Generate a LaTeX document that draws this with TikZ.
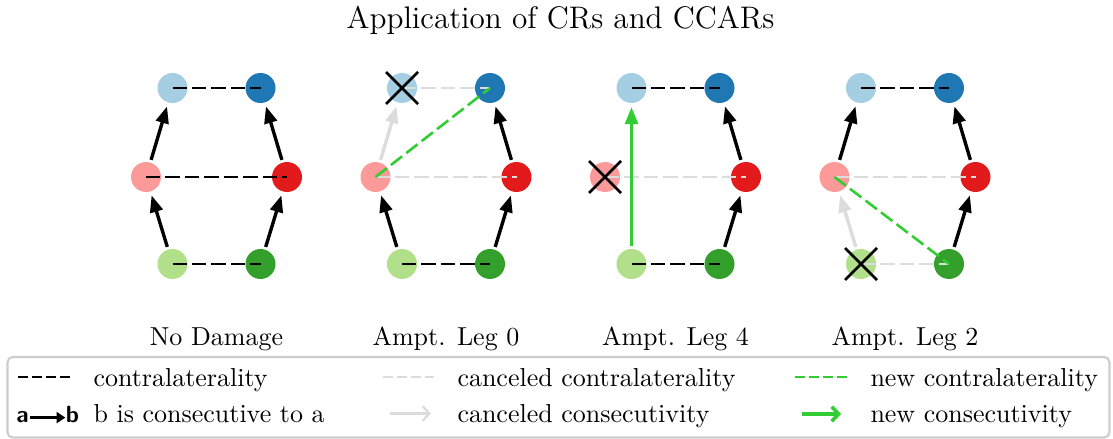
\documentclass[tikz,border=0pt]{standalone}
\usepackage{amsmath}
\usetikzlibrary{arrows.meta}

% Paired palette for the six legs
\definecolor{cTL}{HTML}{A6CEE3}
\definecolor{cTR}{HTML}{1F78B4}
\definecolor{cML}{HTML}{FB9A99}
\definecolor{cMR}{HTML}{E31A1C}
\definecolor{cBL}{HTML}{B2DF8A}
\definecolor{cBR}{HTML}{33A02C}
\definecolor{cancel}{HTML}{DCDCDC}
\definecolor{newgreen}{HTML}{32CD32}
\definecolor{frame}{HTML}{CCCCCC}

\begin{document}
\begin{tikzpicture}[x=0.385pt,y=-0.385pt,
  leg/.style={circle,minimum size=11.55pt,inner sep=0pt,outer sep=0pt,draw=none},
  contra/.style={black,line width=1pt,dash pattern=on 5.5pt off 2pt},
  cancontra/.style={cancel,line width=1pt,dash pattern=on 5.5pt off 2pt},
  newcontra/.style={newgreen,line width=1pt,dash pattern=on 5.5pt off 2pt},
  consec/.style={black,line width=1.3pt,-{Triangle[length=6.5pt,width=4.9pt]},
                 shorten <=1.1pt,shorten >=1.6pt},
  cancons/.style={consec,cancel},
  newcons/.style={consec,newgreen},
  cross/.style={black,line width=1pt},
  lab/.style={font=\fontsize{10}{12}\selectfont,inner sep=0pt},
  legdash/.style={line width=1pt,dash pattern=on 3.85pt off 1.55pt},
  legarrow/.style={-{Straight Barb[length=2.6pt,width=5.6pt]}},
]
\useasboundingbox (0,0) rectangle (1113,439);

% title
\node[font=\fontsize{12}{14}\selectfont,anchor=base,inner sep=0pt] (title) at (560.5,29)
  {Application of CRs and CCARs};

% the six legs of each panel
\foreach \i/\cx in {1/216.5,2/446,3/675.5,4/905}{
  \node[leg,fill=cTL] (p\i-tl) at (\cx-44,88) {};
  \node[leg,fill=cTR] (p\i-tr) at (\cx+44,88) {};
  \node[leg,fill=cML] (p\i-ml) at (\cx-70.5,177) {};
  \node[leg,fill=cMR] (p\i-mr) at (\cx+70.5,177) {};
  \node[leg,fill=cBL] (p\i-bl) at (\cx-44,264) {};
  \node[leg,fill=cBR] (p\i-br) at (\cx+44,264) {};
}

% panel captions
\foreach \i/\cx/\txt in {1/216.5/No Damage,2/446/Ampt. Leg 0,3/675.5/Ampt. Leg 4,4/905/Ampt. Leg 2}{
  \node[lab,anchor=base] (cap\i) at (\cx,346) {\txt};
}

% --- No damage
\draw[contra] (p1-tl.center) -- (p1-tr.center);
\draw[contra] (p1-ml.center) -- (p1-mr.center);
\draw[contra] (p1-bl.center) -- (p1-br.center);
\draw[consec] (p1-bl) -- (p1-ml);
\draw[consec] (p1-ml) -- (p1-tl);
\draw[consec] (p1-br) -- (p1-mr);
\draw[consec] (p1-mr) -- (p1-tr);

% --- leg 0 amputated
\draw[cancontra] (p2-tl.center) -- (p2-tr.center);
\draw[cancontra] (p2-ml.center) -- (p2-mr.center);
\draw[contra] (p2-bl.center) -- (p2-br.center);
\draw[cancons] (p2-ml) -- (p2-tl);
\draw[consec] (p2-bl) -- (p2-ml);
\draw[consec] (p2-br) -- (p2-mr);
\draw[consec] (p2-mr) -- (p2-tr);
\draw[newcontra] (p2-ml.center) -- (p2-tr.center);
\draw[cross] ([shift={(-16,-16)}]p2-tl.center) -- ([shift={(16,16)}]p2-tl.center);
\draw[cross] ([shift={(-16,16)}]p2-tl.center) -- ([shift={(16,-16)}]p2-tl.center);

% --- leg 4 amputated
\draw[contra] (p3-tl.center) -- (p3-tr.center);
\draw[cancontra] (p3-ml.center) -- (p3-mr.center);
\draw[contra] (p3-bl.center) -- (p3-br.center);
\draw[newcons] (p3-bl) -- (p3-tl);
\draw[consec] (p3-br) -- (p3-mr);
\draw[consec] (p3-mr) -- (p3-tr);
\draw[cross] ([shift={(-16,-16)}]p3-ml.center) -- ([shift={(16,16)}]p3-ml.center);
\draw[cross] ([shift={(-16,16)}]p3-ml.center) -- ([shift={(16,-16)}]p3-ml.center);

% --- leg 2 amputated
\draw[contra] (p4-tl.center) -- (p4-tr.center);
\draw[cancontra] (p4-ml.center) -- (p4-mr.center);
\draw[cancontra] (p4-bl.center) -- (p4-br.center);
\draw[cancons] (p4-bl) -- (p4-ml);
\draw[consec] (p4-ml) -- (p4-tl);
\draw[consec] (p4-mr) -- (p4-tr);
\draw[consec] (p4-br) -- (p4-mr);
\draw[newcontra] (p4-ml.center) -- (p4-br.center);
\draw[cross] ([shift={(-16,-16)}]p4-bl.center) -- ([shift={(16,16)}]p4-bl.center);
\draw[cross] ([shift={(-16,16)}]p4-bl.center) -- ([shift={(16,-16)}]p4-bl.center);

% --- legend
\draw[frame,line width=0.8pt,rounded corners=2pt] (7.5,357) rectangle (1109.5,437.5);

\coordinate (k1a) at (18,377);  \coordinate (k1b) at (70,377);
\coordinate (k2a) at (383,377); \coordinate (k2b) at (434,377);
\coordinate (k3a) at (795,377); \coordinate (k3b) at (848,377);
\draw[legdash,black] (k1a) -- (k1b);
\draw[legdash,cancel] (k2a) -- (k2b);
\draw[legdash,newgreen] (k3a) -- (k3b);

% arrow samples
\node[lab,anchor=base] (ka) at (22.5,423) {\fontsize{9}{10}\selectfont\sffamily\bfseries a};
\node[lab,anchor=base] (kb) at (72.5,423) {\fontsize{9}{10}\selectfont\sffamily\bfseries b};
\draw[black,line width=0.9pt,-{Triangle[length=3.4pt,width=4.2pt]},shorten <=0.3pt]
  (ka.east) -- (ka.east -| kb.west);
\coordinate (k5a) at (390,413.5); \coordinate (k5b) at (431,413.5);
\coordinate (k6a) at (802,414);   \coordinate (k6b) at (841,414);
\draw[legarrow,cancel,line width=0.9pt] (k5a) -- (k5b);
\draw[legarrow,newgreen,line width=1.4pt] (k6a) -- (k6b);

\node[lab,anchor=base west] (t1) at (93,386) {contralaterality};
\node[lab,anchor=base west] (t2) at (457,386) {canceled contralaterality};
\node[lab,anchor=base west] (t3) at (870,386) {new contralaterality};
\node[lab,anchor=base west] (t4) at (93,423) {b is consecutive to a};
\node[lab,anchor=base west] (t5) at (457,423) {canceled consecutivity};
\node[lab,anchor=base west] (t6) at (870,423) {new consecutivity};
\end{tikzpicture}
\end{document}
